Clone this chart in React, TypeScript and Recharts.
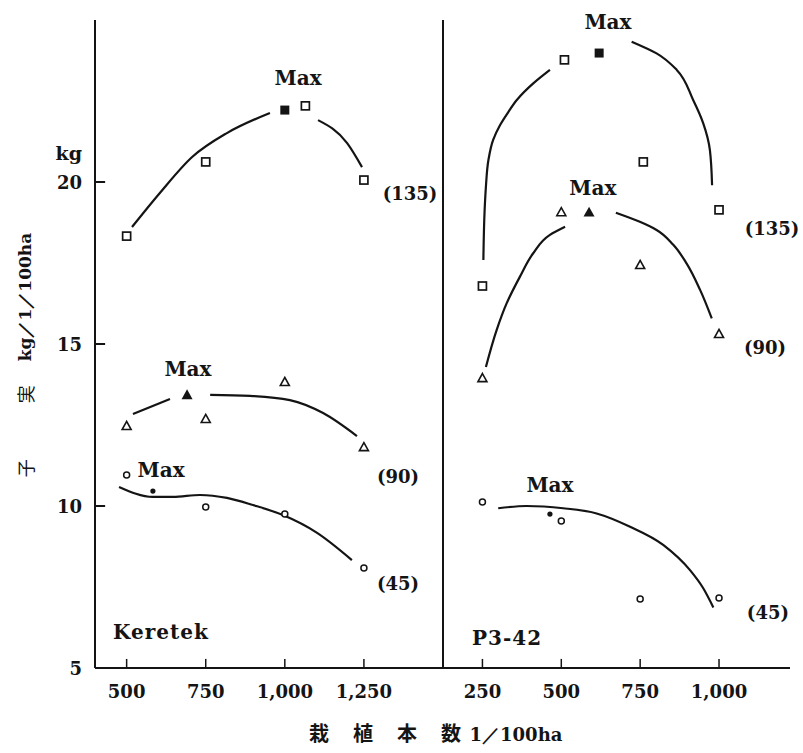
import { ComposedChart, Line, Scatter, XAxis, YAxis, ReferenceLine } from "recharts";

// ---------- Keretek (left panel) ----------
// observed yields, open markers
const kerX135 = [500, 750, 1065, 1250];
const kerY135 = [18.33, 20.62, 22.35, 20.06];
const kerX90 = [500, 750, 1000, 1250];
const kerY90 = [12.47, 12.69, 13.83, 11.82];
const kerX45 = [500, 750, 1000, 1250];
const kerY45 = [10.96, 9.97, 9.75, 8.09];
// estimated maxima (filled markers), order: 135, 90, 45
const kerMaxX = [1000, 691, 583];
const kerMaxY = [22.22, 13.43, 10.46];
// fitted curves as drawn in the figure (null = gap in the line)
const kerFitX135 = [517, 605, 707, 817, 953, 1030, 1105, 1197, 1244];
const kerFitY135 = [18.61, 19.66, 20.77, 21.51, 22.13, null, 21.91, 21.2, 20.46];
const kerFitX90 = [520, 637, 700, 764, 890, 1016, 1121, 1228];
const kerFitY90 = [12.84, 13.3, null, 13.43, 13.4, 13.27, 12.87, 12.16];
const kerFitX45 = [476, 583, 647, 732, 817, 899, 994, 1102, 1212];
const kerFitY45 = [10.59, 10.28, 10.28, 10.34, 10.25, 10.03, 9.72, 9.17, 8.33];

// ---------- P3-42 (right panel) ----------
const p3X135 = [250, 510, 760, 1000];
const p3Y135 = [16.79, 23.77, 20.62, 19.14];
const p3X90 = [250, 500, 750, 1000];
const p3Y90 = [13.95, 19.07, 17.44, 15.31];
const p3X45 = [250, 500, 750, 1000];
const p3Y45 = [10.12, 9.54, 7.13, 7.16];
const p3MaxX = [620, 588, 464];
const p3MaxY = [23.98, 19.07, 9.75];
const p3FitX135 = [253, 257, 261, 269, 284, 306, 332, 359, 412, 464, 600, 723, 802, 866, 918, 950, 971, 978];
const p3FitY135 = [17.59, 19.14, 19.85, 20.68, 21.3, 21.76, 22.16, 22.53, 23.05, 23.46, null, 24.33, 23.97, 23.46, 22.53, 21.81, 20.99, 19.9];
const p3FitX90 = [261, 295, 327, 369, 411, 464, 512, 590, 673, 749, 802, 855, 897, 940, 977];
const p3FitY90 = [14.29, 15.43, 16.26, 17.08, 17.8, 18.37, 18.62, null, 19.05, 18.77, 18.52, 18.06, 17.49, 16.67, 15.79];
const p3FitX45 = [300, 390, 506, 612, 718, 823, 908, 950, 982];
const p3FitY45 = [9.93, 10.0, 9.93, 9.77, 9.36, 8.8, 8.02, 7.46, 6.87];

// axes
const yTicks = [5, 10, 15, 20];
const kerTicks = [500, 750, 1000, 1250];
const p3Ticks = [250, 500, 750, 1000];

// text notes placed in data units
const kerNotes = [
  { x: 1042, y: 23.21, text: "Max", big: true },
  { x: 694, y: 14.23, text: "Max", big: true },
  { x: 609, y: 11.11, text: "Max", big: true },
  { x: 1396, y: 19.66, text: "(135)" },
  { x: 1358, y: 10.9, text: "(90)" },
  { x: 1358, y: 7.62, text: "(45)" },
  { x: 457, y: 6.11, text: "Keretek", big: true, start: true },
];
const p3Notes = [
  { x: 648, y: 24.95, text: "Max", big: true },
  { x: 600, y: 19.81, text: "Max", big: true },
  { x: 464, y: 10.65, text: "Max", big: true },
  { x: 1168, y: 18.58, text: "(135)" },
  { x: 1146, y: 14.88, text: "(90)" },
  { x: 1155, y: 6.7, text: "(45)" },
  { x: 217, y: 5.93, text: "P3-42", big: true, start: true },
];

const INK = "#141414";
const SERIF = '"DejaVu Serif", serif';
const Y_MIN = 5;
const Y_MAX = 25;
// inward tick lengths expressed in axis units (≈9px up, ≈10px right)
const X_TICK_LEN = 0.28;
const Y_TICK_LEN = 32;

const zip = (xs: number[], ys: (number | null)[]) => xs.map((x, i) => ({ x, y: ys[i] }));
const fmt = (v: number) => v.toLocaleString("en-US");

const openSquare = (p: any) => (
  <rect x={p.cx - 4} y={p.cy - 4} width={8} height={8} fill="#fff" stroke={INK} strokeWidth={1.7} />
);
const fullSquare = (p: any) => <rect x={p.cx - 4.5} y={p.cy - 4.5} width={9} height={9} fill={INK} />;
const tri = (cx: number, cy: number, r: number) =>
  `M${cx},${cy - r} L${cx + r},${cy + r * 0.8} L${cx - r},${cy + r * 0.8} Z`;
const openTri = (p: any) => <path d={tri(p.cx, p.cy, 4.5)} fill="#fff" stroke={INK} strokeWidth={1.6} />;
const fullTri = (p: any) => <path d={tri(p.cx, p.cy, 5.5)} fill={INK} />;
const openCircle = (p: any) => <circle cx={p.cx} cy={p.cy} r={3} fill="#fff" stroke={INK} strokeWidth={1.5} />;
const fullCircle = (p: any) => <circle cx={p.cx} cy={p.cy} r={2.6} fill={INK} />;

const noteShape = (p: any) => {
  const n = p.payload;
  return (
    <text
      x={p.cx}
      y={p.cy}
      textAnchor={n.start ? "start" : "middle"}
      dominantBaseline="central"
      fontFamily={SERIF}
      fontWeight={700}
      fontSize={n.big ? 20 : 18}
      letterSpacing={n.start ? 1 : 0}
      fill={INK}
    >
      {n.text}
    </text>
  );
};

const xTick = (p: any) => (
  <text x={p.x} y={p.y + 23} textAnchor="middle" dominantBaseline="central" fontFamily={SERIF} fontWeight={700} fontSize={18} fill={INK}>
    {fmt(p.payload.value)}
  </text>
);

const yTick = (p: any) => (
  <g>
    <text x={p.x - 13} y={p.y} textAnchor="end" dominantBaseline="central" fontFamily={SERIF} fontWeight={700} fontSize={18} fill={INK}>
      {p.payload.value}
    </text>
    {p.payload.value === 20 && (
      <text x={p.x - 13} y={p.y - 29} textAnchor="end" dominantBaseline="central" fontFamily={SERIF} fontWeight={700} fontSize={19} fill={INK}>
        kg
      </text>
    )}
  </g>
);

type Pt = { x: number; y: number | null };

interface PanelProps {
  left: number;
  width: number;
  marginLeft: number;
  marginRight: number;
  yWidth: number;
  showY: boolean;
  curve: "monotone" | "monotoneY";
  xDomain: [number, number];
  xTicks: number[];
  open135: Pt[];
  open90: Pt[];
  open45: Pt[];
  maxX: number[];
  maxY: number[];
  fit135: Pt[];
  fit90: Pt[];
  fit45: Pt[];
  notes: { x: number; y: number; text: string }[];
}

function Panel(props: PanelProps) {
  const { maxX, maxY, xDomain } = props;
  const fits: [Pt[], string][] = [
    [props.fit135, props.curve],
    [props.fit90, props.curve],
    [props.fit45, "monotone"],
  ];
  return (
    <div style={{ position: "absolute", left: props.left, top: 0 }}>
      <ComposedChart
        width={props.width}
        height={753}
        margin={{ top: 20, right: props.marginRight, bottom: 55, left: props.marginLeft }}
      >
        <XAxis
          type="number"
          dataKey="x"
          domain={xDomain}
          ticks={props.xTicks}
          interval={0}
          height={30}
          tickSize={0}
          tickMargin={0}
          axisLine={{ stroke: INK, strokeWidth: 2 }}
          tickLine={false}
          tick={xTick}
        />
        <YAxis
          type="number"
          dataKey="y"
          domain={[Y_MIN, Y_MAX]}
          ticks={yTicks}
          interval={0}
          width={props.yWidth}
          tickSize={0}
          tickMargin={0}
          axisLine={{ stroke: INK, strokeWidth: 2 }}
          tickLine={false}
          tick={props.showY ? yTick : false}
        />
        {props.xTicks.map((t) => (
          <ReferenceLine
            key={"xt" + t}
            segment={[
              { x: t, y: Y_MIN },
              { x: t, y: Y_MIN + X_TICK_LEN },
            ]}
            stroke={INK}
            strokeWidth={1.5}
            ifOverflow="visible"
          />
        ))}
        {props.showY &&
          yTicks
            .filter((t) => t > Y_MIN)
            .map((t) => (
              <ReferenceLine
                key={"yt" + t}
                segment={[
                  { x: xDomain[0], y: t },
                  { x: xDomain[0] + Y_TICK_LEN, y: t },
                ]}
                stroke={INK}
                strokeWidth={2}
                ifOverflow="visible"
              />
            ))}
        {fits.map(([d, type], i) => (
          <Line
            key={"fit" + i}
            data={d}
            dataKey="y"
            type={type as any}
            stroke={INK}
            strokeWidth={2.2}
            dot={false}
            activeDot={false}
            connectNulls={false}
            isAnimationActive={false}
          />
        ))}
        <Scatter data={props.open135} dataKey="y" shape={openSquare} isAnimationActive={false} />
        <Scatter data={props.open90} dataKey="y" shape={openTri} isAnimationActive={false} />
        <Scatter data={props.open45} dataKey="y" shape={openCircle} isAnimationActive={false} />
        <Scatter data={[{ x: maxX[0], y: maxY[0] }]} dataKey="y" shape={fullSquare} isAnimationActive={false} />
        <Scatter data={[{ x: maxX[1], y: maxY[1] }]} dataKey="y" shape={fullTri} isAnimationActive={false} />
        <Scatter data={[{ x: maxX[2], y: maxY[2] }]} dataKey="y" shape={fullCircle} isAnimationActive={false} />
        <Scatter data={props.notes} dataKey="y" shape={noteShape} isAnimationActive={false} />
      </ComposedChart>
    </div>
  );
}

export default function App() {
  return (
    <div
      style={{
        position: "absolute",
        left: 0,
        top: 0,
        width: 803,
        height: 753,
        background: "#fff",
        overflow: "hidden",
      }}
    >
      <Panel
        left={0}
        width={443}
        marginLeft={35}
        marginRight={0}
        yWidth={60}
        showY={true}
        curve="monotone"
        xDomain={[400, 1500]}
        xTicks={kerTicks}
        open135={zip(kerX135, kerY135)}
        open90={zip(kerX90, kerY90)}
        open45={zip(kerX45, kerY45)}
        maxX={kerMaxX}
        maxY={kerMaxY}
        fit135={zip(kerFitX135, kerFitY135)}
        fit90={zip(kerFitX90, kerFitY90)}
        fit45={zip(kerFitX45, kerFitY45)}
        notes={kerNotes}
      />
      <Panel
        left={433}
        width={370}
        marginLeft={0}
        marginRight={13}
        yWidth={10}
        showY={false}
        curve="monotoneY"
        xDomain={[125, 1225]}
        xTicks={p3Ticks}
        open135={zip(p3X135, p3Y135)}
        open90={zip(p3X90, p3Y90)}
        open45={zip(p3X45, p3Y45)}
        maxX={p3MaxX}
        maxY={p3MaxY}
        fit135={zip(p3FitX135, p3FitY135)}
        fit90={zip(p3FitX90, p3FitY90)}
        fit45={zip(p3FitX45, p3FitY45)}
        notes={p3Notes}
      />
      {/* y-axis title, reads bottom to top */}
      <div
        style={{
          position: "absolute",
          left: 25 - 125,
          top: 355 - 11,
          width: 250,
          height: 22,
          transform: "rotate(-90deg)",
          transformOrigin: "50% 50%",
          display: "flex",
          alignItems: "center",
          justifyContent: "center",
          whiteSpace: "nowrap",
          fontFamily: '"Noto Sans CJK JP", sans-serif',
          fontSize: 18,
          color: INK,
        }}
      >
        <span>子</span>
        <span style={{ marginLeft: 56 }}>実</span>
        <span style={{ marginLeft: 24, fontFamily: SERIF, fontWeight: 700, fontSize: 17 }}>kg／1／100ha</span>
      </div>
      {/* x-axis title */}
      <div
        style={{
          position: "absolute",
          left: 309,
          top: 722,
          whiteSpace: "nowrap",
          fontFamily: '"Noto Sans CJK JP", sans-serif',
          fontWeight: 700,
          fontSize: 20,
          lineHeight: "22px",
          letterSpacing: 2,
          color: INK,
        }}
      >
        栽　植　本　数 <span style={{ fontFamily: SERIF, fontSize: 18, letterSpacing: 0 }}>1／100ha</span>
      </div>
    </div>
  );
}
